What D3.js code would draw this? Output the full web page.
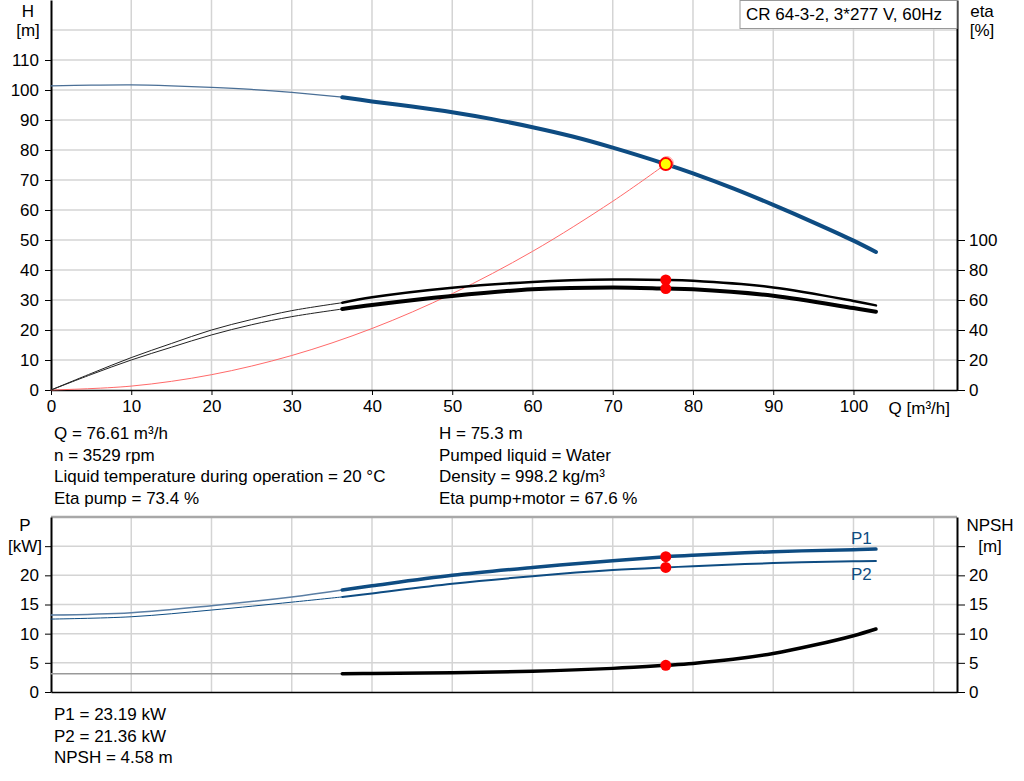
<!DOCTYPE html>
<meta charset="utf-8">
<style>
body { margin: 0; background: #fff; }
svg text { font-family: Arial, "Liberation Sans", sans-serif; font-size: 17px; fill: #000; }
.grid line { stroke: #d4d4d4; stroke-width: 1.5; }
.axis path, .axis line { stroke: #000; }
</style>
<body>
<div id="chart"></div>
<script src="https://d3js.org/d3.v7.min.js"></script>
<script>
// duty point
var dutyQ = 76.61, dutyH = 75.3, dutyEta1 = 73.4, dutyEta2 = 67.6,
    dutyP1 = 23.19, dutyP2 = 21.36, dutyNpsh = 4.58;

// Q/H curve
var qThin = [0, 5, 10, 15, 20, 25, 30, 36.3];
var hThin = [101.4, 101.6, 101.7, 101.4, 100.9, 100.2, 99.2, 97.6];
var qH = [36.3, 40, 45, 50, 55, 60, 65, 70, 76.61, 80, 85, 90, 95, 100, 102.8];
var hThick = [97.6, 96.2, 94.5, 92.6, 90.3, 87.6, 84.5, 80.8, 75.3, 72.2, 67.2, 61.7, 55.9, 49.8, 46.0];

// efficiency curves
var etaPumpThin = [0, 11, 21.6, 31, 40, 47, 52.9, 58.2];
var etaTotThin = [0, 10.3, 20, 28.5, 36.7, 43.5, 48.9, 54];
var qEta = [36.3, 40, 50, 60, 70, 76.61, 80, 90, 100, 102.8];
var etaPump = [58.2, 61.8, 68.2, 72, 73.6, 73.4, 72.8, 68.4, 59.4, 56.4];
var etaTot = [54, 56.7, 62.7, 67.1, 68.4, 67.6, 67.1, 62.8, 54.6, 52.2];

// system curve
var qSys = [0, 10, 20, 30, 40, 50, 60, 70, 76.61];
var hSys = [0, 1.3, 5.1, 11.5, 20.5, 32.1, 46.2, 62.9, 75.3];

// power curves
var qPThin = [0, 10, 20, 30, 36.3];
var p1Thin = [13.2, 13.6, 14.8, 16.3, 17.5];
var p2Thin = [12.5, 12.9, 14.05, 15.4, 16.3];
var qP = [36.3, 40, 50, 60, 70, 76.61, 80, 90, 100, 102.8];
var p1 = [17.5, 18.2, 20.0, 21.35, 22.5, 23.19, 23.45, 24.05, 24.4, 24.5];
var p2 = [16.3, 16.9, 18.55, 19.85, 20.9, 21.36, 21.55, 22.1, 22.4, 22.45];

// NPSH curve
var npshThin = [3.15, 3.15, 3.15, 3.15, 3.15];
var qN = [36.3, 40, 50, 60, 70, 76.61, 80, 85, 90, 95, 100, 102.8];
var npsh = [3.15, 3.17, 3.3, 3.55, 4.05, 4.58, 4.9, 5.6, 6.6, 8.0, 9.65, 10.8];

var qTicks = [0, 10, 20, 30, 40, 50, 60, 70, 80, 90, 100];
var qGrid = [10, 20, 30, 40, 50, 60, 70, 80, 90, 100, 110];
var hTicks = [0, 10, 20, 30, 40, 50, 60, 70, 80, 90, 100, 110];
var hGrid = [10, 20, 30, 40, 50, 60, 70, 80, 90, 100, 110, 120];
var etaTicks = [0, 20, 40, 60, 80, 100];
var pTicks = [0, 5, 10, 15, 20, 25];
var pGrid = [5, 10, 15, 20, 25];

var infoLeft = ["Q = 76.61 m\u00b3/h", "n = 3529 rpm", "Liquid temperature during operation = 20 \u00b0C", "Eta pump = 73.4 %"];
var infoRight = ["H = 75.3 m", "Pumped liquid = Water", "Density = 998.2 kg/m\u00b3", "Eta pump+motor = 67.6 %"];
var infoBottom = ["P1 = 23.19 kW", "P2 = 21.36 kW", "NPSH = 4.58 m"];
var title = "CR 64-3-2, 3*277 V, 60Hz";

var blue = "#0e4c82";
var W = 1024, H = 781;
var left = 51, right = 957;
var topTop = 0, topBottom = 390, botTop = 517, botBottom = 692;

var svg = d3.select("#chart").append("svg").attr("width", W).attr("height", H);

var x = d3.scaleLinear().domain([0, 112.9]).range([left, right]);
var yH = d3.scaleLinear().domain([0, 130]).range([topBottom, topTop]);
var yEta = d3.scaleLinear().domain([0, 260]).range([topBottom, topTop]);
var yP = d3.scaleLinear().domain([0, 30]).range([botBottom, botTop]);
var yN = d3.scaleLinear().domain([0, 30]).range([botBottom, botTop]);

function zip(qs, vs) { return qs.map(function(q, i) { return [q, vs[i]]; }); }

function curve(qs, vs, yScale, color, width) {
  var line = d3.line()
    .x(function(d) { return x(d[0]); })
    .y(function(d) { return yScale(d[1]); })
    .curve(d3.curveCatmullRom.alpha(0.5));
  svg.append("path")
    .datum(zip(qs, vs))
    .attr("d", line)
    .attr("fill", "none")
    .attr("stroke", color)
    .attr("stroke-width", width)
    .attr("stroke-linecap", "round");
}

// grids
var g1 = svg.append("g").attr("class", "grid");
g1.selectAll(".vx").data(qGrid).enter().append("line")
  .attr("x1", function(d) { return x(d); }).attr("x2", function(d) { return x(d); })
  .attr("y1", topTop).attr("y2", topBottom);
g1.selectAll(".hy").data(hGrid).enter().append("line")
  .attr("x1", left).attr("x2", right)
  .attr("y1", function(d) { return yH(d); }).attr("y2", function(d) { return yH(d); });

var g2 = svg.append("g").attr("class", "grid");
g2.selectAll(".vx").data(qGrid).enter().append("line")
  .attr("x1", function(d) { return x(d); }).attr("x2", function(d) { return x(d); })
  .attr("y1", botTop).attr("y2", botBottom);
g2.selectAll(".hy").data(pGrid).enter().append("line")
  .attr("x1", left).attr("x2", right)
  .attr("y1", function(d) { return yP(d); }).attr("y2", function(d) { return yP(d); });

svg.append("line").attr("x1", left).attr("x2", right).attr("y1", botTop).attr("y2", botTop)
  .attr("stroke", "#a8a8a8").attr("stroke-width", 2.5);

// axes top chart
svg.append("g").attr("class", "axis")
  .attr("transform", "translate(0," + topBottom + ")")
  .call(d3.axisBottom(x).tickValues(qTicks).tickSize(5).tickSizeOuter(0))
  .call(function(g) { g.select(".domain").attr("stroke-width", 1.5); g.selectAll("text").attr("dy", "0.85em"); });
svg.append("g").attr("class", "axis")
  .attr("transform", "translate(" + left + ",0)")
  .call(d3.axisLeft(yH).tickValues(hTicks).tickSize(6).tickSizeOuter(0))
  .call(function(g) { g.select(".domain").attr("stroke-width", 2); g.selectAll("text").attr("x", -12); });
svg.append("g").attr("class", "axis")
  .attr("transform", "translate(" + right + ",0)")
  .call(d3.axisRight(yEta).tickValues(etaTicks).tickSize(8).tickSizeOuter(0))
  .call(function(g) { g.select(".domain").attr("stroke-width", 2); g.selectAll("text").attr("x", 12); });

// axes bottom chart
svg.append("g").attr("class", "axis")
  .attr("transform", "translate(0," + botBottom + ")")
  .call(d3.axisBottom(x).tickValues([]).tickSizeOuter(0))
  .call(function(g) { g.select(".domain").attr("stroke-width", 1.5); });
svg.append("g").attr("class", "axis")
  .attr("transform", "translate(" + left + ",0)")
  .call(d3.axisLeft(yP).tickValues(pTicks).tickSize(6).tickSizeOuter(0)
    .tickFormat(function(d) { return d < 25 ? d : ""; }))
  .call(function(g) { g.select(".domain").attr("stroke-width", 2); g.selectAll("text").attr("x", -12); });
svg.append("g").attr("class", "axis")
  .attr("transform", "translate(" + right + ",0)")
  .call(d3.axisRight(yN).tickValues(pTicks).tickSize(8).tickSizeOuter(0)
    .tickFormat(function(d) { return d < 25 ? d : ""; }))
  .call(function(g) { g.select(".domain").attr("stroke-width", 2); g.selectAll("text").attr("x", 12); });
svg.selectAll(".axis text").style("font-size", "17px").style("font-family", "Arial, 'Liberation Sans', sans-serif");

// axis titles
svg.append("text").attr("x", 28).attr("y", 17).attr("text-anchor", "middle").text("H");
svg.append("text").attr("x", 28).attr("y", 36).attr("text-anchor", "middle").text("[m]");
svg.append("text").attr("x", 982).attr("y", 17).attr("text-anchor", "middle").text("eta");
svg.append("text").attr("x", 982).attr("y", 36).attr("text-anchor", "middle").text("[%]");
svg.append("text").attr("x", 950).attr("y", 414).attr("text-anchor", "end").text("Q [m\u00b3/h]");
svg.append("text").attr("x", 25).attr("y", 531).attr("text-anchor", "middle").text("P");
svg.append("text").attr("x", 25).attr("y", 552).attr("text-anchor", "middle").text("[kW]");
svg.append("text").attr("x", 990).attr("y", 531).attr("text-anchor", "middle").text("NPSH");
svg.append("text").attr("x", 990).attr("y", 552).attr("text-anchor", "middle").text("[m]");

// title box
svg.append("rect").attr("x", 740).attr("y", 0.5).attr("width", 217).attr("height", 28)
  .attr("fill", "#fff").attr("stroke", "#999");
svg.append("text").attr("x", 746).attr("y", 20).text(title);

// top curves
curve(qSys, hSys, yH, "#ff6a6a", 1);
curve(qThin, hThin, yH, "#4a6f96", 1.3);
curve(qH, hThick, yH, blue, 4);
curve(qThin, etaPumpThin, yEta, "#222", 1);
curve(qThin, etaTotThin, yEta, "#222", 1);
curve(qEta, etaPump, yEta, "#000", 2.5);
curve(qEta, etaTot, yEta, "#000", 4);

svg.selectAll(".etadot").data([dutyEta1, dutyEta2]).enter().append("circle")
  .attr("cx", x(dutyQ)).attr("cy", function(d) { return yEta(d); }).attr("r", 5.5).attr("fill", "#ff0000");
svg.append("circle").attr("cx", x(dutyQ) + 1).attr("cy", yH(dutyH) - 1).attr("r", 6.5)
  .attr("fill", "none").attr("stroke", "#ff9090").attr("stroke-width", 1);
svg.append("circle").attr("cx", x(dutyQ)).attr("cy", yH(dutyH)).attr("r", 6)
  .attr("fill", "#ffff00").attr("stroke", "#ff0000").attr("stroke-width", 2);

// bottom curves
curve(qPThin, p1Thin, yP, "#5a7ea4", 1.5);
curve(qPThin, p2Thin, yP, blue, 1);
curve(qP, p1, yP, blue, 3.5);
curve(qP, p2, yP, blue, 2);
curve(qPThin, npshThin, yN, "#999", 1.5);
curve(qN, npsh, yN, "#000", 3.5);

svg.selectAll(".pdot").data([yP(dutyP1), yP(dutyP2), yN(dutyNpsh)]).enter().append("circle")
  .attr("cx", x(dutyQ)).attr("cy", function(d) { return d; }).attr("r", 5.5).attr("fill", "#ff0000");

svg.append("text").attr("x", 851).attr("y", 544).style("fill", blue).text("P1");
svg.append("text").attr("x", 851).attr("y", 580).style("fill", blue).text("P2");

// info text
function block(lines, x0, y0) {
  svg.selectAll(null).data(lines).enter().append("text")
    .attr("x", x0).attr("y", function(d, i) { return y0 + i * 21.5; })
    .text(function(d) { return d; });
}
block(infoLeft, 54, 439);
block(infoRight, 439, 439);
block(infoBottom, 54, 720);
</script>
</body>
